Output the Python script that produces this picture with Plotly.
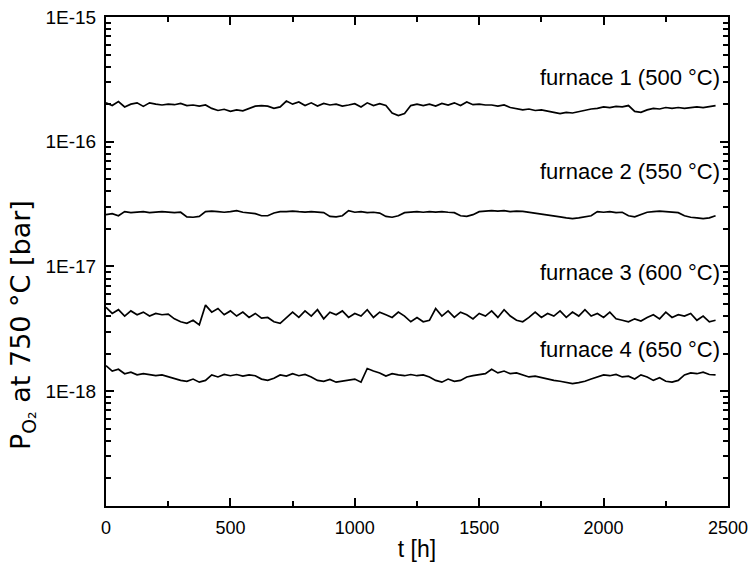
import math
import plotly.graph_objects as go

# time grid [h]
hours = list(range(0, 2475, 25))

# furnace 1 (500 °C), values in units of 1e-16 bar
f1 = [2.05, 1.95, 2.10, 1.90, 2.00, 2.05, 1.92, 2.05, 2.00, 1.97,
      2.00, 1.98, 2.03, 1.95, 1.97, 1.93, 1.97, 1.85, 1.78, 1.82,
      1.75, 1.80, 1.77, 1.85, 1.93, 1.95, 1.93, 1.85, 1.90, 2.12,
      2.00, 2.08, 1.95, 2.05, 1.93, 2.03, 1.97, 2.00, 1.93, 1.97,
      2.02, 1.90, 2.05, 1.95, 2.02, 1.95, 1.70, 1.62, 1.68, 1.95,
      2.00, 1.95, 2.00, 1.93, 2.03, 1.97, 2.05, 1.95, 2.08, 1.98,
      2.00, 1.97, 1.97, 1.93, 1.97, 1.88, 1.85, 1.80, 1.83, 1.78,
      1.80, 1.75, 1.72, 1.68, 1.72, 1.70, 1.75, 1.80, 1.83, 1.85,
      1.90, 1.88, 1.92, 1.90, 1.95, 1.75, 1.72, 1.80, 1.85, 1.83,
      1.88, 1.85, 1.88, 1.85, 1.87, 1.90, 1.88, 1.92, 1.95]

# furnace 2 (550 °C), units of 1e-17 bar
f2 = [2.60, 2.65, 2.55, 2.75, 2.70, 2.72, 2.75, 2.70, 2.72, 2.75,
      2.73, 2.70, 2.72, 2.50, 2.48, 2.52, 2.75, 2.78, 2.75, 2.72,
      2.75, 2.80, 2.72, 2.70, 2.65, 2.55, 2.55, 2.68, 2.75, 2.75,
      2.78, 2.75, 2.73, 2.75, 2.72, 2.70, 2.52, 2.50, 2.55, 2.80,
      2.72, 2.75, 2.70, 2.72, 2.68, 2.52, 2.48, 2.55, 2.70, 2.72,
      2.75, 2.72, 2.75, 2.73, 2.75, 2.72, 2.70, 2.55, 2.52, 2.60,
      2.75, 2.78, 2.80, 2.78, 2.80, 2.75, 2.78, 2.76, 2.72, 2.65,
      2.62, 2.58, 2.55, 2.50, 2.45, 2.42, 2.45, 2.50, 2.55, 2.75,
      2.72, 2.75, 2.70, 2.72, 2.55, 2.50, 2.60, 2.72, 2.75, 2.78,
      2.75, 2.72, 2.70, 2.55, 2.48, 2.45, 2.42, 2.45, 2.55]

# furnace 3 (600 °C), units of 1e-18 bar
f3 = [4.7, 4.2, 4.5, 4.0, 4.4, 4.1, 4.3, 4.0, 4.2, 4.1,
      4.15, 3.8, 3.6, 3.5, 3.7, 3.4, 4.9, 4.3, 4.6, 4.1,
      4.4, 4.0, 4.3, 3.9, 4.2, 3.85, 3.9, 3.6, 3.5, 3.9,
      4.3, 3.9, 4.4, 4.0, 4.5, 3.8, 4.3, 4.1, 4.4, 3.9,
      4.2, 4.0, 4.5, 3.9, 4.3, 4.1, 3.9, 4.3, 4.0, 3.6,
      3.9, 3.6, 3.7, 4.6, 4.0, 4.4, 3.9, 4.3, 4.1, 3.8,
      4.2, 4.0, 4.4, 3.9, 4.5, 4.0, 3.7, 3.6, 3.9, 4.3,
      3.9, 4.2, 4.0, 4.4, 3.9, 4.3, 4.0, 4.5, 4.0, 4.2,
      3.9, 4.3, 3.8, 3.7, 3.6, 3.8, 3.65, 3.9, 4.1, 3.8,
      4.3, 3.9, 4.1, 4.0, 4.2, 3.7, 4.0, 3.6, 3.7]

# furnace 4 (650 °C), units of 1e-18 bar
f4 = [1.60, 1.45, 1.50, 1.38, 1.42, 1.35, 1.38, 1.36, 1.33, 1.35,
      1.30, 1.25, 1.22, 1.20, 1.25, 1.18, 1.22, 1.35, 1.30, 1.36,
      1.33, 1.36, 1.32, 1.35, 1.33, 1.25, 1.22, 1.27, 1.35, 1.32,
      1.38, 1.33, 1.36, 1.30, 1.22, 1.20, 1.24, 1.18, 1.20, 1.22,
      1.25, 1.18, 1.52, 1.45, 1.40, 1.32, 1.38, 1.35, 1.33, 1.36,
      1.33, 1.35, 1.30, 1.22, 1.18, 1.25, 1.20, 1.22, 1.30, 1.33,
      1.35, 1.38, 1.50, 1.40, 1.45, 1.38, 1.40, 1.35, 1.30, 1.32,
      1.28, 1.25, 1.22, 1.20, 1.18, 1.15, 1.17, 1.20, 1.25, 1.30,
      1.35, 1.33, 1.36, 1.30, 1.32, 1.25, 1.35, 1.30, 1.22, 1.28,
      1.20, 1.18, 1.22, 1.35, 1.40, 1.38, 1.42, 1.36, 1.35]

series = [(f1, 1e-16), (f2, 1e-17), (f3, 1e-18), (f4, 1e-18)]
labels = ["furnace 1 (500 °C)", "furnace 2 (550 °C)",
          "furnace 3 (600 °C)", "furnace 4 (650 °C)"]
label_y = [3.3e-16, 5.8e-17, 8.9e-18, 2.15e-18]

ytick_vals = [1e-15, 1e-16, 1e-17, 1e-18]
ytick_text = ["1E-15", "1E-16", "1E-17", "1E-18"]
xtick_vals = [0, 500, 1000, 1500, 2000, 2500]

FONT = "Liberation Sans, Arial, sans-serif"

fig = go.Figure()
for vals, scale in series:
    fig.add_trace(go.Scatter(
        x=hours[:len(vals)], y=[v * scale for v in vals],
        mode="lines", line=dict(color="black", width=1.7),
        showlegend=False))

for lab, ly in zip(labels, label_y):
    fig.add_annotation(x=0.99, xref="paper", y=math.log10(ly), yref="y",
                       text=lab, showarrow=False, xanchor="right",
                       yanchor="middle",
                       font=dict(family=FONT, size=22, color="black"))

# y-axis title (placed as in the reference, slightly below centre)
fig.add_annotation(x=-0.135, xref="paper", y=0.37, yref="paper",
                   text="P<sub>O₂</sub> at 750 °C [bar]", textangle=-90,
                   showarrow=False, xanchor="center", yanchor="middle",
                   font=dict(family="DejaVu Sans, sans-serif", size=27,
                             color="black"))

fig.update_layout(
    width=750, height=567,
    margin=dict(l=106, r=22, t=17, b=61, autoexpand=False),
    plot_bgcolor="white", paper_bgcolor="white",
    font=dict(family=FONT, color="black"),
)
fig.update_xaxes(
    range=[0, 2500], tickvals=xtick_vals, ticks="inside", ticklen=8,
    tickwidth=2, tickcolor="black", showline=True, linewidth=2,
    linecolor="black", mirror="ticks", showgrid=False, zeroline=False,
    automargin=False,
    tickfont=dict(size=18, family=FONT), ticklabelstandoff=4,
    minor=dict(ticks="inside", ticklen=5, tickwidth=1.5, dtick=250,
               tickcolor="black", showgrid=False),
    title=dict(text="t [h]", font=dict(size=23, family=FONT), standoff=4),
)
fig.update_yaxes(
    type="log", range=[math.log10(1.2e-19), -15],
    tickvals=ytick_vals, ticktext=ytick_text, ticks="inside", ticklen=8,
    tickwidth=2, tickcolor="black", showline=True, linewidth=2,
    linecolor="black", mirror="ticks", showgrid=False, zeroline=False,
    automargin=False,
    tickfont=dict(size=19, family=FONT), ticklabelstandoff=4,
    minor=dict(ticks="inside", ticklen=5, tickwidth=1.5, dtick="D1",
               tickcolor="black", showgrid=False),
)

fig.write_html("out.html")
